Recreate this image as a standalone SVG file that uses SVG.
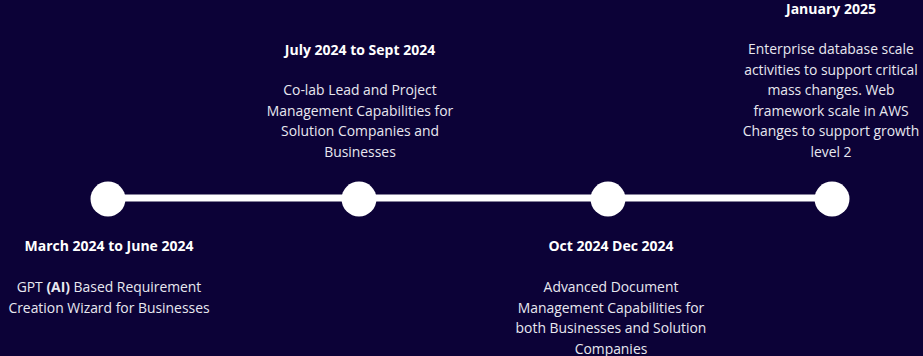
<svg xmlns="http://www.w3.org/2000/svg" width="923" height="356" viewBox="0 0 923 356">
<style>
.t{font-family:"Open Sans","Noto Sans","Liberation Sans",sans-serif;font-size:14px;font-weight:700;fill:#ffffff;text-anchor:middle}
.d{font-family:"Open Sans","Noto Sans","Liberation Sans",sans-serif;font-size:13.9px;font-weight:400;fill:#e8e8f0;text-anchor:middle}
.n{fill:#ffffff}
</style>
<rect width="923" height="356" fill="#0c0237"/>
<g id="connectors">
<line x1="108" y1="198" x2="832" y2="198" stroke="#ffffff" stroke-width="7"/>
</g>
<g id="node1">
<circle class="n" cx="108" cy="199" r="17.5"/>
<text class="t" x="109" y="251">March 2024 to June 2024</text>
<text class="d" x="109" y="292">GPT <tspan font-weight="700">(AI)</tspan> Based Requirement</text>
<text class="d" x="109" y="313">Creation Wizard for Businesses</text>
</g>
<g id="node2">
<circle class="n" cx="359" cy="199" r="17.5"/>
<text class="t" x="360" y="55">July 2024 to Sept 2024</text>
<text class="d" x="360" y="95">Co-lab Lead and Project</text>
<text class="d" x="360" y="115.5">Management Capabilities for</text>
<text class="d" x="360" y="136">Solution Companies and</text>
<text class="d" x="360" y="156.5">Businesses</text>
</g>
<g id="node3">
<circle class="n" cx="608" cy="199" r="17.5"/>
<text class="t" x="611" y="251">Oct 2024 Dec 2024</text>
<text class="d" x="611" y="292">Advanced Document</text>
<text class="d" x="611" y="312.5">Management Capabilities for</text>
<text class="d" x="611" y="333">both Businesses and Solution</text>
<text class="d" x="611" y="353.5">Companies</text>
</g>
<g id="node4">
<circle class="n" cx="832" cy="199" r="17.5"/>
<text class="t" x="831" y="14">January 2025</text>
<text class="d" x="831" y="54">Enterprise database scale</text>
<text class="d" x="831" y="74.5">activities to support critical</text>
<text class="d" x="831" y="95">mass changes. Web</text>
<text class="d" x="831" y="115.5">framework scale in AWS</text>
<text class="d" x="831" y="136">Changes to support growth</text>
<text class="d" x="831" y="156.5">level 2</text>
</g>
</svg>
